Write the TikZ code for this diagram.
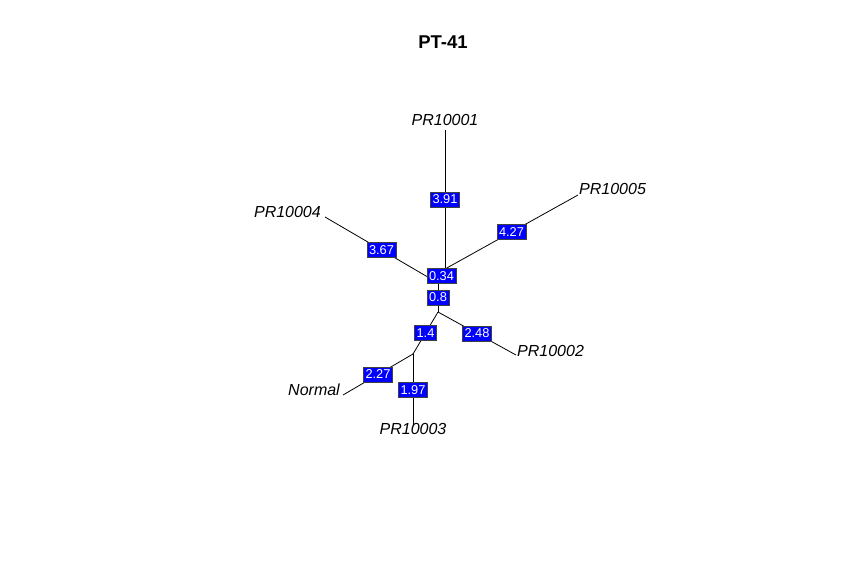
\documentclass[tikz,border=0pt]{standalone}
\usepackage{fontspec}
\setmainfont{Liberation Sans}
\usepackage{xcolor}
\usepackage{tikz}
\usetikzlibrary{positioning}
\tikzstyle{edge} = [draw=black, line width=0.8pt]
\tikzstyle{elabel} = [rectangle, draw=black!75, line width=0.6pt, fill=blue, text=white, font=\fontsize{12.8}{12.8}\selectfont, inner xsep=2.2pt, inner ysep=1.2pt, minimum height=15pt]
\tikzstyle{tiplabel} = [inner sep=0pt, font=\fontsize{16}{16}\selectfont\itshape]

\begin{document}
\begin{tikzpicture}[x=1pt, y=-1pt]
    \useasboundingbox (0,0) rectangle (864,576);
    % Title
    \node[font=\fontsize{18.5}{18.5}\selectfont\bfseries] (title) at (443,42) {PT-41};
    
    % Internal nodes
    \coordinate (root) at (438,283);
    \coordinate (nx) at (445,269);
    \coordinate (ny) at (438,312);
    \coordinate (nz) at (413,354);
    
    % Tips
    \coordinate (pr1) at (445,130);
    \coordinate (pr5) at (578,195);
    \coordinate (pr4) at (325,217);
    \coordinate (pr2) at (516,355);
    \coordinate (nrm) at (343,395);
    \coordinate (pr3) at (413,426);
    
    % Tip labels
    \node[tiplabel] (lab1) at (445,120) {PR10001};
    \node[tiplabel, anchor=west] (lab5) at (579,189) {PR10005};
    \node[tiplabel, anchor=east] (lab4) at (321,212) {PR10004};
    \node[tiplabel, anchor=west] (lab2) at (517,351) {PR10002};
    \node[tiplabel, anchor=east] (labn) at (340,390) {Normal};
    \node[tiplabel] (lab3) at (413,429) {PR10003};
    
    % Edges
    \draw[edge] (root) -- (nx);
    \draw[edge] (root) -- (ny);
    \draw[edge] (root) -- (pr4);
    \draw[edge] (nx) -- (pr1);
    \draw[edge] (nx) -- (pr5);
    \draw[edge] (ny) -- (pr2);
    \draw[edge] (ny) -- (nz);
    \draw[edge] (nz) -- (nrm);
    \draw[edge] (nz) -- (pr3);
    
    % Edge lengths
    \path (root) -- node[elabel] (e1) {0.34} (nx);
    \path (root) -- node[elabel] (e2) {0.8} (ny);
    \path (root) -- node[elabel] (e3) {3.67} (pr4);
    \path (nx) -- node[elabel] (e4) {3.91} (pr1);
    \path (nx) -- node[elabel] (e5) {4.27} (pr5);
    \path (ny) -- node[elabel] (e6) {2.48} (pr2);
    \path (ny) -- node[elabel] (e7) {1.4} (nz);
    \path (nz) -- node[elabel] (e8) {2.27} (nrm);
    \path (nz) -- node[elabel] (e9) {1.97} (pr3);
    
\end{tikzpicture}
\end{document}
